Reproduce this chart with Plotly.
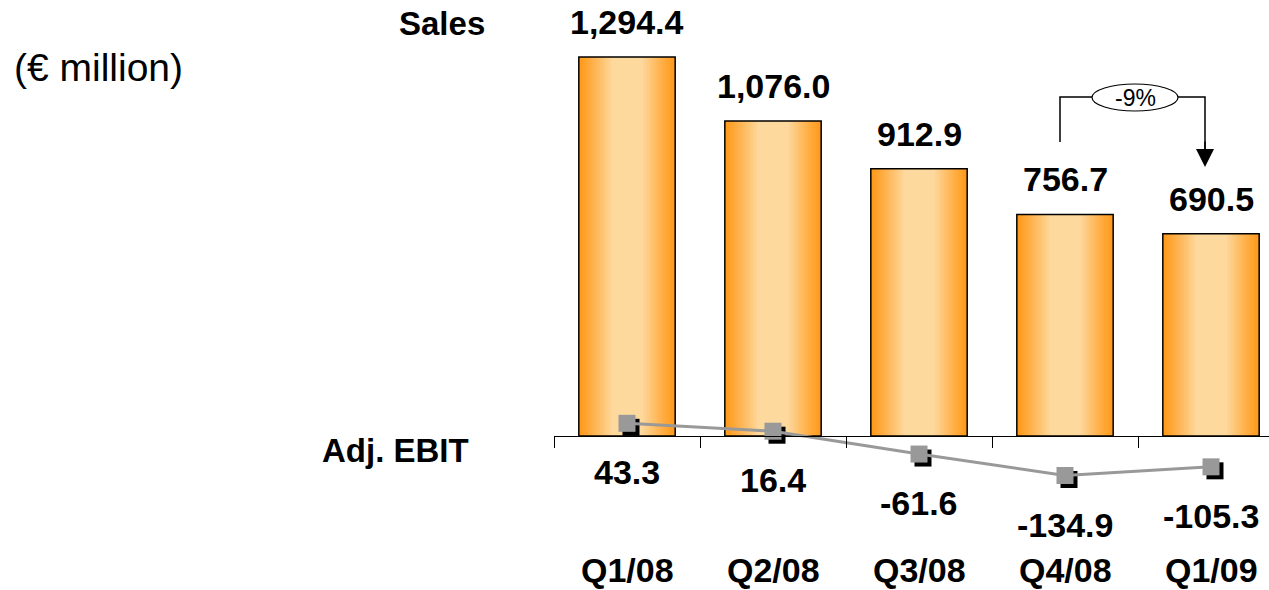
import plotly.graph_objects as go

# ---- data ----
quarters = ["Q1/08", "Q2/08", "Q3/08", "Q4/08", "Q1/09"]
sales = [1294.4, 1076.0, 912.9, 756.7, 690.5]
sales_labels = ["1,294.4", "1,076.0", "912.9", "756.7", "690.5"]
ebit = [43.3, 16.4, -61.6, -134.9, -105.3]
ebit_labels = ["43.3", "16.4", "-61.6", "-134.9", "-105.3"]
change_label = "-9%"

# ---- layout constants ----
FONT = "Arial, Liberation Sans, sans-serif"
W, H = 1269, 590
L = 554                 # left margin (px)
CAT_PX = 146            # px per category
K = 0.2928              # px per € million
ZERO_PX = 436           # pixel row of zero line
BAR_W = 0.66

x_idx = list(range(len(quarters)))
xr = [-0.5, -0.5 + (W - L) / CAT_PX]
yr = [-(H - ZERO_PX) / K, ZERO_PX / K]
SH = 4  # shadow offset px


def lerp(c1, c2, t):
    a = [int(c1[i:i + 2], 16) for i in (1, 3, 5)]
    b = [int(c2[i:i + 2], 16) for i in (1, 3, 5)]
    return "rgb(%d,%d,%d)" % tuple(round(a[j] + (b[j] - a[j]) * t) for j in range(3))


EDGE, MID = "#FF9A1C", "#FED99E"

fig = go.Figure()

# gradient bars via nested overlays
N = 16
for i in range(N):
    w = BAR_W * (1 - 0.72 * i / N)
    t = (i / (N - 1)) ** 1.1
    fig.add_trace(go.Bar(
        x=x_idx, y=sales, width=[w] * len(sales),
        marker=dict(color=lerp(EDGE, MID, t),
                    line=dict(width=0)),
        hoverinfo="skip", showlegend=False))
# outline
fig.add_trace(go.Bar(
    x=x_idx, y=sales, width=[BAR_W] * len(sales),
    marker=dict(color="rgba(0,0,0,0)", line=dict(color="black", width=1.5)),
    showlegend=False, name="Sales"))

# shadow of markers (shifted axes)
fig.add_trace(go.Scatter(
    x=x_idx, y=ebit, mode="markers", xaxis="x2", yaxis="y2",
    marker=dict(symbol="square", size=17, color="black"),
    hoverinfo="skip", showlegend=False))
# EBIT line
fig.add_trace(go.Scatter(
    x=x_idx, y=ebit, mode="lines+markers", xaxis="x3", yaxis="y3",
    line=dict(color="#999999", width=3),
    marker=dict(symbol="square", size=17, color="#999999"),
    showlegend=False, name="Adj. EBIT"))

ann = []
for i, (v, lab) in enumerate(zip(sales, sales_labels)):
    ann.append(dict(x=i, y=v, text=f"<b>{lab}</b>", showarrow=False, yanchor="middle",
                    yshift=35, font=dict(size=34, family=FONT, color="black")))
for i, (v, lab) in enumerate(zip(ebit, ebit_labels)):
    ann.append(dict(x=i, y=v, text=f"<b>{lab}</b>", showarrow=False, yanchor="middle",
                    yshift=-49, font=dict(size=34, family=FONT, color="black")))
for i, q in enumerate(quarters):
    ann.append(dict(x=i, y=0, yref="paper", text=f"<b>{q}</b>", showarrow=False,
                    yanchor="bottom", borderpad=0, font=dict(size=34, family=FONT, color="black")))

pw = W - L
ann.append(dict(x=(442 - L) / pw, xref="paper", y=(H - 23) / H, yref="paper",
                text="<b>Sales</b>", showarrow=False, xanchor="center", yanchor="middle",
                font=dict(size=33, family=FONT, color="black")))
ann.append(dict(x=(12 - L) / pw, xref="paper", y=(H - 68) / H, yref="paper",
                text="(€ million)", showarrow=False, xanchor="left", yanchor="middle",
                font=dict(size=39, family=FONT, color="black")))
ann.append(dict(x=(320 - L) / pw, xref="paper", y=(H - 450) / H, yref="paper",
                text="<b>Adj. EBIT</b>", showarrow=False, xanchor="left", yanchor="middle",
                font=dict(size=33, family=FONT, color="black")))

# -9% bracket
def px2y(py):
    return (ZERO_PX - py) / K

def px2x(px):
    return (px - (L + CAT_PX / 2)) / CAT_PX

xl, xrt = px2x(1060), px2x(1205)
ytop, yl_bot, y_tip = px2y(97), px2y(142), px2y(167)
shapes = [
    dict(type="path", xref="x", yref="y",
         path=f"M {xl},{yl_bot} L {xl},{ytop} L {xrt},{ytop} L {xrt},{px2y(155)}",
         line=dict(color="black", width=1.5)),
    dict(type="circle", xref="x", yref="y",
         x0=px2x(1092), x1=px2x(1178), y0=px2y(111), y1=px2y(84),
         fillcolor="white", line=dict(color="black", width=1.2)),
]
ann.append(dict(x=xrt, y=y_tip, ax=xrt, ay=px2y(140), axref="x", ayref="y",
                text="", showarrow=True, arrowhead=2, arrowsize=2.4, arrowwidth=1.5,
                arrowcolor="black"))
ann.append(dict(x=(px2x(1092) + px2x(1178)) / 2, y=px2y(97.5), text=change_label,
                showarrow=False, font=dict(size=23, family=FONT, color="black")))

fig.update_layout(
    barmode="overlay",
    width=W, height=H, autosize=False,
    margin=dict(l=L, r=0, t=0, b=0),
    plot_bgcolor="white", paper_bgcolor="white",
    font=dict(family=FONT, color="black"),
    showlegend=False,
    xaxis=dict(range=xr, anchor="free", position=(H - ZERO_PX) / H,
               showline=True, linecolor="black", linewidth=1,
               tickmode="array", tickvals=[i - 0.5 for i in range(len(quarters) + 1)],
               ticks="outside", ticklen=11, tickcolor="black", tickwidth=1,
               showticklabels=False, showgrid=False, zeroline=False, fixedrange=True),
    yaxis=dict(range=yr, visible=False, showgrid=False, zeroline=False, fixedrange=True),
    xaxis2=dict(range=[xr[0] - SH / CAT_PX, xr[1] - SH / CAT_PX], overlaying="x",
                anchor="y2", visible=False),
    yaxis2=dict(range=[yr[0] + SH / K, yr[1] + SH / K], overlaying="y",
                anchor="x2", visible=False),
    xaxis3=dict(range=xr, overlaying="x", anchor="y3", visible=False),
    yaxis3=dict(range=yr, overlaying="y", anchor="x3", visible=False),
    annotations=ann,
    shapes=shapes,
)

fig.write_html("out.html", config={"displayModeBar": False},
               post_script="document.body.style.margin='0';document.body.style.overflow='hidden';")
